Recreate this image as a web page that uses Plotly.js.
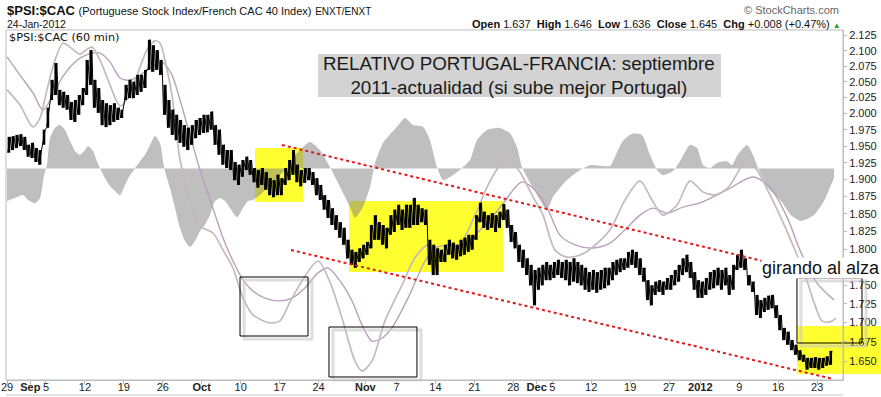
<!DOCTYPE html>
<html><head><meta charset="utf-8">
<script src="https://cdn.plot.ly/plotly-3.0.1.min.js"></script>
<style>html,body{margin:0;padding:0;background:#fff}#chart{width:881px;height:397px}</style>
</head><body><div id="chart"></div>
<script>
// ---- price ratio $PSI:$CAC, one high/low pair per half trading day (day 0 = 29 Aug 2011)
const hi = [1.964,1.965,1.967,1.968,1.964,1.952,1.955,1.947,1.944,1.975,
2.009,2.053,2.080,2.037,2.034,2.029,2.018,2.021,2.029,2.040,
2.085,2.101,2.053,2.040,2.021,2.016,2.013,2.016,2.009,2.006,
2.045,2.053,2.050,2.061,2.061,2.069,2.118,2.109,2.101,2.085,
2.045,2.021,2.006,1.998,1.990,1.982,1.978,1.982,1.990,1.993,
1.998,1.998,2.003,1.982,1.975,1.952,1.944,1.944,1.926,1.922,
1.929,1.934,1.929,1.917,1.914,1.917,1.911,1.902,1.899,1.907,
1.902,1.917,1.929,1.944,1.922,1.914,1.917,1.917,1.911,1.902,
1.892,1.877,1.870,1.858,1.848,1.838,1.830,1.813,1.799,1.796,
1.801,1.806,1.810,1.834,1.848,1.838,1.834,1.830,1.848,1.856,
1.863,1.856,1.863,1.863,1.873,1.863,1.858,1.856,1.813,1.806,
1.801,1.799,1.806,1.813,1.809,1.806,1.813,1.816,1.820,1.820,
1.848,1.866,1.853,1.848,1.851,1.848,1.853,1.864,1.856,1.834,
1.824,1.806,1.799,1.787,1.778,1.771,1.774,1.778,1.782,1.778,
1.782,1.785,1.782,1.785,1.782,1.787,1.782,1.778,1.774,1.768,
1.771,1.768,1.771,1.774,1.774,1.782,1.785,1.787,1.787,1.796,
1.799,1.796,1.787,1.774,1.757,1.750,1.755,1.757,1.755,1.760,
1.764,1.771,1.778,1.787,1.792,1.782,1.768,1.757,1.755,1.760,
1.768,1.771,1.774,1.771,1.774,1.764,1.778,1.792,1.799,1.787,
1.764,1.755,1.737,1.730,1.733,1.736,1.737,1.723,1.710,1.693,
1.688,1.677,1.671,1.664,1.658,1.654,1.654,1.655,1.654,1.654,
1.656,1.663];
const lo = [1.940,1.944,1.947,1.950,1.944,1.934,1.932,1.926,1.922,1.952,
1.978,2.021,2.029,2.013,2.009,2.006,1.990,1.987,1.998,2.013,
2.029,2.045,2.009,2.001,1.982,1.979,1.982,1.987,1.990,1.993,
2.021,2.024,2.024,2.029,2.034,2.040,2.069,2.066,2.069,2.061,
1.998,1.978,1.967,1.959,1.955,1.949,1.944,1.952,1.962,1.967,
1.970,1.971,1.975,1.952,1.937,1.922,1.917,1.914,1.899,1.892,
1.904,1.914,1.907,1.896,1.888,1.892,1.885,1.877,1.874,1.877,
1.877,1.892,1.899,1.907,1.896,1.890,1.895,1.899,1.892,1.877,
1.870,1.856,1.844,1.834,1.827,1.816,1.806,1.787,1.778,1.774,
1.782,1.787,1.792,1.801,1.813,1.813,1.806,1.801,1.820,1.824,
1.834,1.827,1.830,1.830,1.834,1.834,1.838,1.834,1.778,1.764,
1.764,1.782,1.782,1.792,1.787,1.785,1.790,1.792,1.796,1.799,
1.813,1.838,1.830,1.827,1.830,1.824,1.830,1.841,1.830,1.810,
1.801,1.782,1.774,1.764,1.750,1.723,1.744,1.750,1.757,1.757,
1.760,1.764,1.760,1.757,1.750,1.755,1.753,1.750,1.744,1.741,
1.744,1.740,1.744,1.746,1.750,1.757,1.764,1.768,1.771,1.774,
1.778,1.774,1.764,1.755,1.730,1.723,1.737,1.741,1.737,1.744,
1.744,1.750,1.755,1.764,1.768,1.760,1.744,1.733,1.733,1.737,
1.744,1.746,1.750,1.744,1.750,1.737,1.744,1.771,1.774,1.771,
1.750,1.741,1.710,1.706,1.714,1.717,1.719,1.706,1.690,1.677,
1.671,1.664,1.658,1.651,1.649,1.639,1.641,1.641,1.639,1.641,
1.644,1.645];

// ---- fast indicator line (light) : trading-day position / indicator value (0-100)
const fastDay = [0,1.67,3.34,4.24,5.13,6.16,7.19,8.09,9.37,10.14,10.91,11.94,13.22,14.51,15.53,16.69,17.97,19.0,19.64,20.41,21.18,22.21,23.49,24.78,26.44,27.73,29.01,30.30,31.58,32.73,33.76,35.04,36.33,37.87,39.92,41.46,43.0,44.67,45.57,46.85,48.52,50.71,52.37,54.04,55.84,57.89,60.08,61.75,63.29,64.31,65.85,67.39,68.81,70.35,71.89,73.56,75.22,77.41,79.33,81.26,82.80,84.21,86.01,87.68,89.35,90.89,92.55,93.84,95.0,96.28,97.95,99.61,101.41,102.70,103.72,104.62,105.65,106.42];
const fastVal = [82.9,78.6,72.3,74.9,82.9,91.4,96.3,95.1,93.1,94.3,95.1,91.4,84.3,78.3,80.6,87.1,94.3,96.9,96.3,90.0,81.4,62.9,51.4,44.0,42.0,37.1,32.0,23.4,18.6,17.1,16.3,16.9,22.3,28.3,34.0,28.0,17.7,5.4,2.6,5.4,16.9,27.1,34.9,38.6,35.7,37.7,47.1,55.7,61.4,63.4,59.4,52.9,47.1,37.1,35.1,35.7,38.0,42.9,51.4,56.9,51.4,47.1,50.0,56.9,53.7,52.9,54.9,59.4,63.4,60.0,52.9,45.1,35.7,28.3,21.4,16.9,16.6,17.7];
// ---- slow indicator line (purple)
const slowDay = [0,1.67,3.34,4.62,5.78,7.06,8.34,9.63,10.91,11.94,13.22,14.51,15.79,17.07,18.36,20.03,21.18,22.21,23.49,24.78,26.44,27.73,29.01,30.30,31.58,33.12,35.04,36.59,38.25,39.92,41.21,42.75,44.29,45.57,46.85,48.14,49.42,51.48,53.66,54.94,56.61,58.41,60.98,63.54,65.21,66.11,67.78,69.45,70.99,72.91,75.22,77.41,79.33,81.26,82.93,84.72,86.78,88.96,92.43,95.76,97.95,100.13,101.80,103.98,106.16];
const slowVal = [92.3,87.1,82.0,77.1,80.9,86.3,90.0,92.3,93.4,93.4,90.9,86.3,85.7,87.1,89.1,90.6,87.1,80.0,70.0,60.0,49.1,40.6,34.0,28.6,25.4,23.4,22.6,23.4,26.3,30.6,32.0,28.3,22.6,15.7,11.1,12.0,14.9,23.4,34.0,37.7,38.6,38.6,43.4,50.0,54.9,56.6,54.3,48.6,41.4,38.6,37.7,39.1,42.9,47.1,49.1,47.7,49.4,50.6,54.3,58.0,55.1,46.6,37.1,27.7,22.9];
// ---- oscillator histogram area (gray)
const oscDay = [0,1.03,2.05,2.70,3.59,4.24,4.75,5.13,5.52,6.16,6.80,7.45,8.09,8.73,9.37,10.01,10.40,11.04,11.55,11.94,12.58,13.22,13.86,14.51,15.15,15.79,16.43,17.07,17.72,18.36,19.0,19.64,20.03,20.28,20.92,21.57,22.21,22.85,23.49,24.13,24.78,25.42,26.06,26.70,27.35,27.99,28.63,29.53,30.30,30.94,31.58,32.48,33.76,35.04,35.94,36.71,37.61,38.89,40.17,41.46,42.75,44.03,44.67,45.70,46.60,47.24,48.27,50.06,51.09,52.12,53.40,54.30,55.20,55.97,56.87,58.15,59.43,60.33,61.62,63.29,64.57,65.47,66.11,67.14,68.42,69.32,70.09,71.89,73.56,74.97,77.41,77.79,79.08,80.23,81.51,82.54,83.44,84.21,85.49,86.39,87.68,88.58,89.35,90.24,91.14,92.43,93.07,93.71,95.0,95.76,96.41,97.69,99.36,100.64,101.93,103.59,104.88,105.78,106.16];
const oscVal = [-9.3,-8.4,-7.6,-9.0,-9.9,-8.4,-1.9,1.0,8.7,11.6,12.4,11.0,7.9,5.0,3.9,5.3,6.4,5.0,2.1,0.1,-2.7,-5.0,-6.4,-7.6,-4.7,-1.9,0.1,2.1,3.9,6.7,9.3,7.3,2.1,-0.7,-5.6,-11.3,-17.0,-20.7,-22.4,-20.7,-17.9,-16.1,-13.3,-9.3,-8.4,-9.3,-11.3,-13.9,-11.3,-9.3,-9.0,-7.6,-4.7,-1.9,0.1,3.0,5.3,7.6,5.3,0.4,-5.3,-11.0,-14.1,-11.0,-5.3,1.6,7.3,11.9,14.4,12.4,11.9,8.1,0.4,-3.3,-2.4,-0.4,2.4,8.1,11.0,11.6,10.1,6.1,0.4,-4.1,-9.0,-11.9,-8.1,-3.3,-0.4,1.0,0.7,2.1,7.9,9.9,9.6,3.9,-0.4,-1.9,-0.7,2.1,6.7,5.9,1.0,0.1,1.6,2.1,1.0,3.6,6.7,3.9,0.1,-5.6,-9.3,-13.3,-15.0,-13.3,-9.3,-4.7,-2.7];

// ---- axis ticks
const xTickDays = [0,3,5,10,15,20,25,30,35,40,46,50,55,60,65,68,70,75,80,85,89,94,99,104];
const xTickText = ['29','<b>Sep</b>','5','12','19','26','<b>Oct</b>','10','17','24','<b>Nov</b>','7','14','21','28','<b>Dec</b>','5','12','19','27','<b>2012</b>','9','16','23'];
const yTickVals = [1.650,1.675,1.700,1.725,1.750,1.800,1.825,1.850,1.875,1.900,1.925,1.950,1.975,2.000,2.025,2.050,2.075,2.100,2.125];

// half-day bar positions, ranges and a zig-zag path joining them
const barX = hi.map((_, i) => i * 0.5 + 0.25);
const barSpan = hi.map((h, i) => h - lo[i]);
const barZero = hi.map(() => 0);
const px = [], py = [];
hi.forEach((h, i) => { const d = i * 0.5; px.push(d + 0.1, d + 0.4); py.push(lo[i], h); });

const FONT = 'Liberation Sans, Arial, sans-serif';

const traces = [
  {x: oscDay, y: oscVal, yaxis: 'y', type: 'scatter', mode: 'lines', fill: 'tozeroy',
   fillcolor: 'rgba(128,128,128,0.5)', line: {width: 0, shape: 'spline', smoothing: 0.6}, hoverinfo: 'skip'},
  {x: slowDay, y: slowVal, yaxis: 'y2', type: 'scatter', mode: 'lines',
   line: {color: 'rgb(186,160,190)', width: 1.4, shape: 'spline', smoothing: 0.8}, hoverinfo: 'skip'},
  {x: fastDay, y: fastVal, yaxis: 'y2', type: 'scatter', mode: 'lines',
   line: {color: 'rgb(196,186,186)', width: 1.7, shape: 'spline', smoothing: 0.8}, hoverinfo: 'skip'},
  {x: px, y: py, yaxis: 'y3', type: 'scatter', mode: 'lines',
   line: {color: '#000', width: 1}, hoverinfo: 'skip'},
  {x: barX, y: lo, yaxis: 'y3', type: 'scatter', mode: 'markers',
   marker: {size: 1, color: 'rgba(0,0,0,0)'},
   error_y: {type: 'data', symmetric: false, array: barSpan, arrayminus: barZero,
             thickness: 2.6, width: 0, color: '#000'}, hoverinfo: 'skip'}
];

function rect(x0,y0,x1,y1,extra){ return Object.assign({type:'rect',xref:'paper',yref:'paper',x0:x0,y0:y0,x1:x1,y1:y1}, extra); }

const shapes = [
  rect(0.2975,0.5086,0.3548,0.6629,{layer:'below',fillcolor:'#ffff30',line:{width:0}}),
  rect(0.4098,0.3086,0.5938,0.5114,{layer:'below',fillcolor:'#ffff30',line:{width:0}}),
  rect(0.9450,0.0171,1.0454,0.1543,{layer:'below',fillcolor:'#ffff30',line:{width:0}}),
  rect(0.3728,0.8086,0.8542,0.9314,{layer:'above',fillcolor:'#d3d3d3',line:{width:0}}),
  rect(0.2844,0.1171,0.3656,0.2857,{layer:'above',line:{color:'rgba(200,200,200,0.6)',width:3}}),
  rect(0.3907,0.0000,0.4958,0.1429,{layer:'above',line:{color:'rgba(200,200,200,0.6)',width:3}}),
  rect(0.9498,0.0971,1.0275,0.2829,{layer:'above',line:{color:'rgba(200,200,200,0.6)',width:3}}),
  rect(0.2796,0.1257,0.3608,0.2943,{layer:'above',line:{color:'#000',width:1}}),
  rect(0.3859,0.0086,0.4910,0.1514,{layer:'above',line:{color:'#000',width:1}}),
  rect(0.9450,0.1057,1.0227,0.2914,{layer:'above',line:{color:'#000',width:1}}),
  {type:'line',xref:'paper',yref:'paper',x0:0.3297,y0:0.6714,x1:0.9881,y1:0.2914,line:{color:'#e01818',width:2,dash:'dot'}},
  {type:'line',xref:'paper',yref:'paper',x0:0.3405,y0:0.3714,x1:0.9881,y1:0.0029,line:{color:'#e01818',width:2,dash:'dot'}},
  rect(0,0,1,1,{layer:'above',line:{color:'#bdbdbd',width:1}}),
  {type:'line',xref:'paper',yref:'paper',x0:0,x1:1,y0:-0.0429,y1:-0.0429,line:{color:'#c8c8c8',width:1}}
];

const annotations = [
  {xref:'paper',yref:'paper',x:-0.0012,y:1.0571,xanchor:'left',yanchor:'middle',showarrow:false,
   text:"<b>$PSI:$CAC</b> <span style='font-size:11px'>(Portuguese Stock Index/French CAC 40 Index)</span> <span style='font-size:10px'>ENXT/ENXT</span>",
   font:{family:FONT,size:13,color:'#111'}},
  {xref:'paper',yref:'paper',x:-0.0012,y:1.0171,xanchor:'left',yanchor:'middle',showarrow:false,
   text:'24-Jan-2012',font:{family:FONT,size:10.5,color:'#111'}},
  {xref:'paper',yref:'paper',x:0.998,y:1.0571,xanchor:'right',yanchor:'middle',showarrow:false,
   text:'© StockCharts.com',font:{family:FONT,size:11,color:'#666'}},
  {xref:'paper',yref:'paper',x:1.0,y:1.0171,xanchor:'right',yanchor:'middle',showarrow:false,
   text:"<b>Open</b> 1.637&#160;&#160;<b>High</b> 1.646&#160;&#160;<b>Low</b> 1.636&#160;&#160;<b>Close</b> 1.645&#160;&#160;<b>Chg</b> +0.008 (+0.47%) <span style='color:#2e9e2e;font-size:8px'>▲</span>",
   font:{family:FONT,size:11,color:'#111'}},
  {xref:'paper',yref:'paper',x:0.0012,y:0.98,xanchor:'left',yanchor:'middle',showarrow:false,
   text:'$PSI:$CAC (60 min)',font:{family:'DejaVu Sans, sans-serif',size:11.3,color:'#111'}},
  {xref:'paper',yref:'paper',x:0.6135,y:0.87,xanchor:'center',yanchor:'middle',showarrow:false,
   text:'RELATIVO PORTUGAL-FRANCIA: septiembre<br>2011-actualidad (si sube mejor Portugal)',
   font:{family:FONT,size:18.8,color:'#1a1a1a'}},
  {xref:'paper',yref:'paper',x:0.902,y:0.32,xanchor:'left',yanchor:'middle',showarrow:false,
   text:'girando al alza',bgcolor:'#fff',borderpad:0,font:{family:FONT,size:18,color:'#111'}}
];

const layout = {
  width: 881, height: 397,
  margin: {l: 6, r: 38, t: 30, b: 17, pad: 0},
  paper_bgcolor: '#fff', plot_bgcolor: 'rgba(0,0,0,0)',
  showlegend: false,
  font: {family: FONT, size: 11, color: '#222'},
  xaxis: {range: [-0.128, 107.32], tickmode: 'array', tickvals: xTickDays, ticktext: xTickText,
          showgrid: false, zeroline: false, showline: true, linecolor: '#bdbdbd',
          ticks: 'outside', ticklen: 3, tickcolor: '#bbb', ticklabelstandoff: -6,
          tickfont: {size: 11, color: '#222'}, fixedrange: true},
  yaxis: {range: [-60.43, 39.57], visible: false, fixedrange: true},
  yaxis2: {range: [0, 100], overlaying: 'y', visible: false, fixedrange: true},
  yaxis3: {type: 'log', range: [0.21107, 0.32922], overlaying: 'y', side: 'right',
           tickmode: 'array', tickvals: yTickVals, tickformat: '.3f',
           showgrid: false, zeroline: false, showline: true, linecolor: '#bdbdbd',
           ticks: 'outside', ticklen: 3, tickcolor: '#bbb', tickfont: {size: 11, color: '#222'}, fixedrange: true},
  shapes: shapes,
  annotations: annotations
};

Plotly.newPlot('chart', traces, layout, {staticPlot: true, displayModeBar: false});
</script></body></html>
